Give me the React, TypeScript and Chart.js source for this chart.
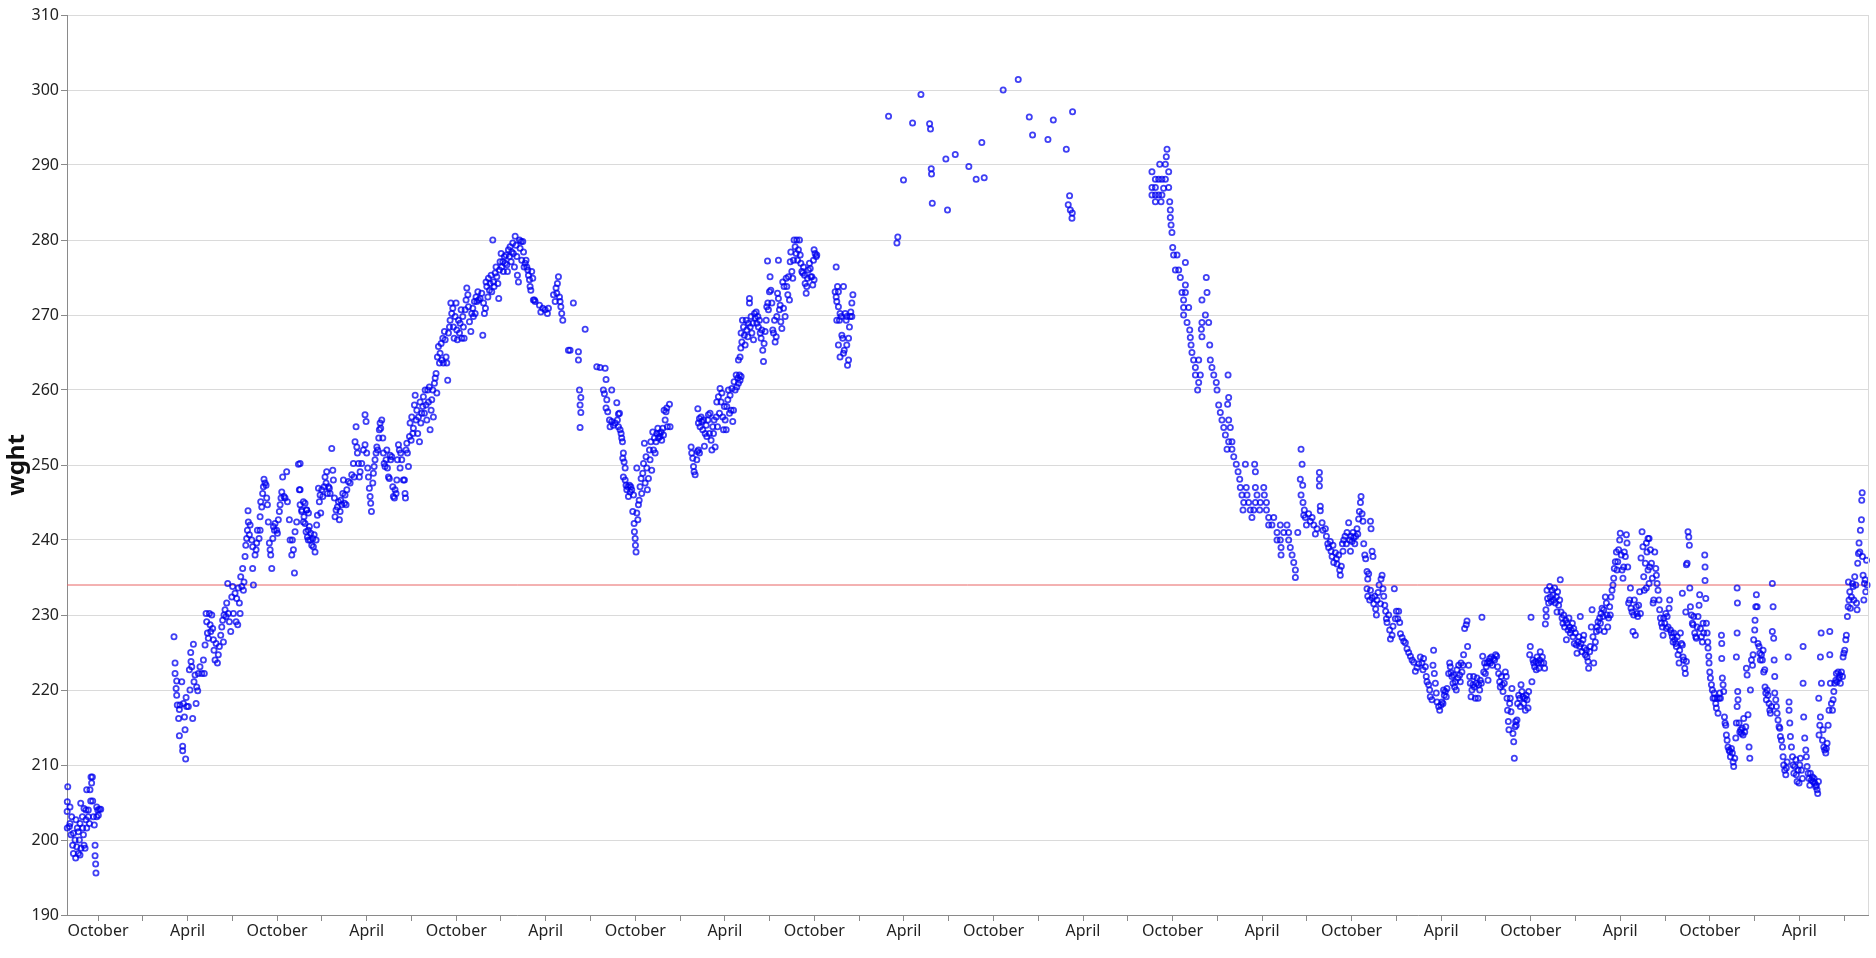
import React, { useEffect, useRef } from "react";
import { Chart, registerables } from "chart.js";

Chart.register(...registerables);

// x values are month indexes counted from January of the first year shown (0 = Jan, 3 = Apr, 9 = Oct)
const monthNames: Record<number, string> = { 3: "April", 9: "October" };
const quarterTicks = [9, 12, 15, 18, 21, 24, 27, 30, 33, 36, 39, 42, 45, 48, 51, 54, 57, 60, 63, 66, 69, 72, 75, 78, 81, 84, 87, 90, 93, 96, 99, 102, 105, 108, 111, 114, 117, 120, 123, 126];
const xRange = { min: 6.92, max: 127.6 };
const yRange = { min: 190, max: 310, step: 10 };
const referenceWeight = 234;
const yTitle = "wght";

const run1: [number, number][] = [
  [6.94,201.6],[6.97,207.1],[6.94,205.1],[6.93,203.8],[7.12,204.4],[7.08,201.8],[7.23,203.1],[7.12,202.2],[7.19,200.7],[7.35,200.9],[7.30,199.3],[7.35,198.2],[7.50,197.6],[7.57,199.1],[7.46,200.0],[7.61,201.6],[7.68,201.1],[7.52,202.7],[7.68,198.2],[7.75,200.0],[7.79,202.2],[7.84,204.9],[7.86,198.9],[7.79,198.0],[7.95,203.1],[7.97,201.6],[8.02,200.7],[8.06,199.3],[8.06,204.2],[8.13,198.9],[8.19,202.7],[8.24,201.6],[8.24,206.7],[8.19,204.0],[8.35,204.0],[8.35,203.1],[8.42,202.2],[8.46,206.7],[8.53,208.4],[8.57,207.6],[8.51,205.2],[8.64,205.2],[8.62,208.4],[8.69,203.1],[8.75,202.0],[8.80,199.3],[8.80,197.9],[8.84,196.8],[8.86,195.6],[8.91,203.1],[8.98,204.0],[9.09,204.1],[9.02,203.3],[9.18,204.1],[8.91,204.4]
];

const run2: [number, number][] = [
  [14.09,227.1],[14.16,223.6],[14.16,222.2],[14.27,221.2],[14.23,220.2],[14.27,219.3],[14.31,218.0],[14.45,217.4],[14.40,216.2],[14.45,213.9],[14.67,212.5],[14.67,211.9],[14.87,210.8],[14.49,218.0],[14.61,221.1],[14.72,218.2],[14.79,216.4],[14.83,214.7],[14.90,219.0],[14.94,217.8],[15.05,217.8],[15.12,222.7],[15.16,220.0],[15.21,225.0],[15.23,223.8],[15.28,223.1],[15.34,216.2],[15.39,226.1],[15.43,221.1],[15.50,222.0],[15.57,218.2],[15.61,220.4],[15.68,219.9],[15.72,222.2],[15.83,223.1],[15.95,222.2],[16.06,224.0],[16.12,222.2],[16.17,226.0],[16.24,230.2],[16.28,229.1],[16.33,227.6],[16.39,226.9],[16.46,230.2],[16.51,228.7],[16.55,227.8],[16.62,230.0],[16.68,228.2],[16.73,226.7],[16.77,225.3],[16.84,224.0],[16.91,226.2],[17.00,223.6],[17.06,224.7],[17.13,225.8],[17.22,227.3],[17.29,228.4],[17.40,226.4],[17.35,229.3],[17.44,230.0],[17.51,230.7],[17.58,229.8],[17.62,231.6],[17.69,234.2],[17.73,230.2],[17.80,229.1],[17.89,227.8],[17.96,232.4],[18.02,233.8],[18.07,230.2],[18.18,232.9],[18.25,229.1],[18.29,232.2],[18.36,228.7],[18.40,233.6],[18.47,231.6],[18.52,230.2],[18.56,235.1],[18.63,233.8],[18.69,236.2],[18.74,233.3],[18.78,234.4],[18.85,237.8],[18.90,239.3],[18.96,240.2],[19.01,241.3],[19.07,242.4],[19.05,243.9],[19.14,240.7],[19.19,242.0],[19.30,240.0],[19.36,239.1],[19.41,234.0],[19.36,236.2],[19.52,238.0],[19.59,238.7],[19.63,239.6],[19.68,241.3],[19.79,240.2],[19.86,241.3],[19.86,243.1],[19.90,245.1],[19.97,244.4],[20.03,246.2],[20.08,247.1],[20.12,248.1],[20.19,247.6],[20.26,247.3],[20.30,245.6],[20.35,244.7],[20.41,242.4],[20.48,239.6],[20.53,238.7],[20.57,238.0],[20.64,236.2],[20.71,240.2],[20.75,241.8],[20.82,241.3],[20.86,242.2],[20.97,241.3],[21.02,240.9],[21.08,242.7],[21.15,243.8],[21.20,244.7],[21.26,245.6],[21.31,246.4],[21.37,248.4],[21.46,245.8],[21.53,245.6],[21.64,249.1],[21.69,245.1],[21.82,242.7],[21.87,240.0],[21.98,238.0],[22.02,240.0],[22.09,238.7],[22.16,235.6],[22.20,241.1],[22.31,242.4],[22.43,250.1],[22.49,246.7],[22.54,244.7],[22.65,243.8],[22.76,242.4],[22.87,244.9],[22.98,244.0],[23.09,241.3],[23.09,240.0]
];

const run3: [number, number][] = [
  [22.54,250.2],[22.54,246.7],[22.65,244.0],[22.76,245.1],[22.80,243.1],[22.87,242.2],[22.94,241.1],[22.98,244.0],[23.03,240.4],[23.10,243.6],[23.16,241.8],[23.21,240.0],[23.25,240.9],[23.32,239.3],[23.39,240.2],[23.43,239.1],[23.54,238.4],[23.48,240.7],[23.61,240.0],[23.65,242.0],[23.70,243.3],[23.77,246.9],[23.83,245.1],[23.88,246.0],[23.92,243.6],[23.99,246.7],[24.06,245.8],[24.15,247.1],[24.21,248.4],[24.28,247.6],[24.32,249.1],[24.37,246.2],[24.44,247.1],[24.50,246.9],[24.55,246.2],[24.66,252.2],[24.73,249.3],[24.77,248.0],[24.84,245.6],[24.88,243.1],[24.95,244.0],[25.04,244.4],[25.11,245.1],[25.17,242.7],[25.22,243.8],[25.26,245.3],[25.33,244.7],[25.40,246.2],[25.44,248.0],[25.51,244.9],[25.55,246.0],[25.62,244.7],[25.67,246.7],[25.78,247.8],[25.89,247.6],[26.00,248.7],[26.11,250.2],[26.16,248.4],[26.22,253.1],[26.29,255.1],[26.34,252.4],[26.38,251.6],[26.45,250.2],[26.51,248.4],[26.56,249.1],[26.67,250.2],[26.78,252.0],[26.89,256.7],[26.96,255.8],[26.89,252.7],[27.00,251.6],[27.07,249.6],[27.12,248.4],[27.18,246.9],[27.23,245.8],[27.27,244.9],[27.32,243.8],[27.41,247.6],[27.45,248.9],[27.50,249.8],[27.56,250.7],[27.63,251.6],[27.68,252.4],[27.74,252.0],[27.81,253.6],[27.85,254.7],[27.90,255.6],[27.94,254.9],[28.01,256.0],[28.08,253.6],[28.12,251.6],[28.17,250.2],[28.23,249.8],[28.30,250.7],[28.35,252.0],[28.39,249.6],[28.46,248.4],[28.52,248.2],[28.57,251.3],[28.61,250.7],[28.68,251.1],[28.75,247.1],[28.79,245.8],[28.86,245.6],[28.90,246.7],[28.97,246.2],[29.02,248.0],[29.06,250.7],[29.13,252.7],[29.19,252.0],[29.24,249.6],[29.28,251.6],[29.35,250.7],[29.46,248.0],[29.53,248.0],[29.57,246.2],[29.60,245.6],[29.64,252.0],[29.69,252.9],[29.73,251.6],[29.80,249.8],[29.87,253.8],[29.91,255.6],[29.98,253.3],[30.02,256.4],[30.09,254.2],[30.13,254.9],[30.20,258.0],[30.25,259.3],[30.31,256.0],[30.36,257.3],[30.42,254.2],[30.47,256.4],[30.54,253.1],[30.58,258.4],[30.63,255.6],[30.69,256.9],[30.76,257.8],[30.80,259.1],[30.87,256.9],[30.92,260.0],[30.98,258.0],[31.03,256.0],[31.09,260.0],[31.14,258.4],[31.20,260.4],[31.25,254.7],[31.32,257.3],[31.36,258.7],[31.43,260.0],[31.47,256.4],[31.54,260.9],[31.59,261.6],[31.65,262.2],[31.70,259.6],[31.74,264.4],[31.81,265.8],[31.88,263.6],[31.92,264.9],[31.99,266.2],[32.03,264.0],[32.10,266.9],[32.14,263.6],[32.21,267.8],[32.26,266.7],[32.32,264.4],[32.37,263.6],[32.43,261.3],[32.48,267.6],[32.55,268.4],[32.59,269.3],[32.64,271.6],[32.70,270.2],[32.77,270.9],[32.81,268.4],[32.86,266.9],[32.93,269.8],[32.99,271.6],[33.04,268.0],[33.08,266.7],[33.15,269.3],[33.22,267.6],[33.26,268.9],[33.33,270.7],[33.37,266.9],[33.44,269.8],[33.48,268.4],[33.53,266.9],[33.60,270.7],[33.66,272.0],[33.71,273.6],[33.78,272.7],[33.82,271.1],[33.89,269.1],[33.98,267.8],[34.04,270.2],[34.11,270.9],[34.15,269.8],[34.22,271.8],[34.27,270.2],[34.33,272.4],[34.38,271.8],[34.45,273.1],[34.49,272.0],[34.60,272.2],[34.71,272.9],[34.78,267.3],[34.83,271.6],[34.89,270.2],[34.96,270.9],[35.00,274.4],[35.05,273.8],[35.12,272.4],[35.16,274.9],[35.23,273.3],[35.27,274.2],[35.34,275.3],[35.38,273.1],[35.45,280.0],[35.50,274.4],[35.54,273.8],[35.61,275.6],[35.67,276.4],[35.72,275.1],[35.79,274.2],[35.85,272.2],[35.90,276.0],[35.94,277.1],[36.01,278.2],[36.05,276.4],[36.12,277.1],[36.16,275.8],[36.23,277.8],[36.28,276.9],[36.34,278.0],[36.39,276.7],[36.43,275.8],[36.50,278.7],[36.57,277.8],[36.61,279.1],[36.68,277.1],[36.72,278.4],[36.79,279.6],[36.83,278.2],[36.90,276.4],[36.95,280.5],[37.01,279.3],[37.06,277.8],[37.10,275.3],[37.17,274.4],[37.24,280.0],[37.28,278.9],[37.35,279.8],[37.39,277.3],[37.46,279.8],[37.51,278.4],[37.55,276.4],[37.62,276.9],[37.68,277.3],[37.73,276.4],[37.80,276.0],[37.84,275.3],[37.91,274.7],[37.95,273.8],[38.00,273.3],[38.06,275.8],[38.13,274.9],[38.17,272.0],[38.24,272.0],[38.29,271.8],[38.58,271.3],[38.67,270.4],[38.80,270.9],[38.96,270.7],[39.11,270.2],[39.18,270.9],[39.52,272.7],[39.63,271.8],[39.69,273.6],[39.74,272.9],[39.78,274.2],[39.85,275.1],[39.92,272.4],[39.96,271.8],[40.01,271.1],[40.07,270.2],[40.14,269.3],[40.52,265.3]
];

const run4: [number, number][] = [
  [40.85,271.6],[41.64,268.1],[40.63,265.3],[41.19,265.1],[41.19,264.0],[41.26,260.0],[41.35,259.0],[41.30,258.0],[41.35,257.0],[41.30,255.0],[42.42,263.1],[42.64,263.0],[42.98,262.9],[43.04,261.4],[42.86,260.0],[42.93,259.5],[43.42,260.0],[43.09,258.7],[43.04,257.6],[43.15,257.1],[43.27,256.0],[43.31,255.1],[43.42,255.8],[43.53,255.3],[43.65,255.6],[43.76,258.3],[43.87,256.8],[43.94,256.9],[43.80,256.0],[43.87,255.1],[43.98,254.7],[44.05,254.2],[44.09,253.6],[44.14,253.1],[44.20,251.6],[44.16,250.9],[44.25,250.4],[44.32,249.6],[44.20,248.4],[44.32,248.0],[44.38,247.3],[44.43,246.7],[44.50,247.1],[44.54,245.8],[44.61,247.3],[44.65,246.4],[44.70,247.1],[44.76,246.7],[44.83,243.8],[44.88,246.0],[44.92,242.2],[44.94,241.1],[44.99,240.2],[45.01,239.3],[45.05,238.4],[45.10,249.6],[45.10,243.6],[45.17,242.7],[45.21,244.7],[45.26,245.3],[45.32,247.1],[45.39,248.2],[45.43,246.2],[45.50,248.9],[45.55,250.2],[45.61,252.9],[45.66,247.6],[45.72,251.1],[45.77,249.6],[45.81,246.7],[45.88,248.2],[45.95,252.0],[45.99,250.7],[46.04,253.1],[46.10,249.3],[46.17,254.4],[46.22,252.0],[46.28,253.6],[46.33,251.6],[46.39,253.1],[46.44,254.2],[46.51,254.9],[46.55,253.6],[46.62,254.2],[46.66,253.8],[46.73,254.4],[46.77,253.3],[46.84,254.9],[46.89,254.0],[46.93,257.3],[47.00,256.0],[47.06,257.1],[47.11,257.6],[47.15,255.1],[47.29,258.1],[47.33,255.1],
  [48.74,252.4],[48.78,251.6],[48.85,250.9],[48.90,249.8],[48.94,249.1],[49.01,248.7],[49.12,250.7],[49.16,251.8],[49.23,252.0],[49.30,251.6],[49.19,257.5],[49.23,255.6],[49.30,256.2],[49.34,255.1],[49.41,256.4],[49.45,255.8],[49.52,254.7],[49.57,256.0],[49.63,252.5],[49.68,254.2],[49.75,255.3],[49.79,253.8],[49.86,256.0],[49.90,256.7],[49.97,254.2],[50.01,256.9],[50.08,253.3],[50.13,252.0],[50.19,255.1],[50.24,254.2],[50.28,256.0],[50.35,252.4],[50.42,256.4],[50.46,258.4],[50.51,255.1],[50.57,259.1],[50.64,256.9],[50.68,260.2],[50.75,258.4],[50.80,259.6],[50.86,256.4],[50.91,254.7],[50.97,257.8],[51.02,256.0],[51.09,254.7],[51.13,257.8],[51.20,258.7],[51.24,260.0],[51.31,256.9],[51.35,259.3],[51.42,257.3],[51.47,260.2],[51.53,255.8],[51.58,257.3],[51.62,261.1],[51.69,260.0],[51.76,262.0],[51.80,260.4],[51.87,261.6],[51.91,260.9],[51.98,262.0],[52.02,261.3],[52.09,261.8],[51.91,264.0],[52.02,264.4],[52.07,265.6],[52.14,266.4],[52.09,267.6],[52.18,269.3],[52.25,268.4],[52.31,267.3],[52.36,266.0],[52.43,269.3],[52.47,268.0],[52.54,267.1],[52.58,268.9],[52.65,272.2],[52.65,271.6],[52.70,268.4],[52.76,269.8],[52.81,267.6],[52.87,268.9],[52.92,266.7],[52.99,270.2],[53.03,269.6],[53.10,270.4],[53.14,268.9],[53.21,269.8],[53.25,268.4],[53.32,269.3],[53.37,267.6],[53.43,266.9],[53.48,268.0],[53.54,265.3],[53.59,263.8],[53.63,266.2],[53.70,267.8],[53.77,269.3],[53.81,271.1],[53.86,277.2],[53.88,271.6],[53.92,270.7],[53.99,273.1],[54.03,275.1],[54.08,273.3],[54.15,271.6],[54.21,268.0],[54.26,267.6],[54.33,269.3],[54.37,266.4],[54.44,267.1],[54.48,269.8],[54.53,272.9],[54.59,277.3],[54.59,272.2],[54.66,270.7],[54.71,271.3],[54.75,269.1],[54.82,268.2],[54.88,274.4],[54.93,270.9],[54.97,273.8],[55.04,269.8],[55.11,274.9],[55.15,273.8],[55.22,272.7],[55.26,275.1],[55.33,272.0],[55.38,277.1],[55.42,278.4],[55.49,275.8],[55.55,274.9],[55.60,277.3],[55.64,280.0],[55.71,279.1],[55.78,278.2],[55.82,280.0],[55.87,277.3],[55.93,278.7],[56.00,280.0],[56.05,278.0],[56.09,276.9],[56.16,275.8],[56.22,275.6],[56.27,276.4],[56.34,275.3],[56.38,274.2],[56.45,272.9],[56.49,273.8],[56.54,274.9],[56.60,276.0],[56.67,276.9],[56.72,276.2],[56.76,275.1],[56.83,275.1],[56.89,274.0],[56.94,277.3],[56.98,278.7],[57.05,278.2],[57.12,277.8],[57.16,278.0],[56.98,274.7],
  [58.46,276.4],[58.39,273.1],[58.46,272.4],[58.55,273.8],[58.61,273.1],[58.50,271.8],[58.61,271.1],[58.50,269.3],[58.68,269.3],[58.72,270.2],[58.79,269.8],[58.61,266.0],[58.72,264.4],[58.84,267.3],[58.90,266.9],[58.95,264.9],[59.00,265.3],[58.95,273.8],[59.06,270.2],[59.13,269.3],[59.17,266.0],[59.22,263.3],[59.29,264.0],[59.29,266.9],[59.35,268.4],[59.40,269.8],[59.44,270.4],[59.51,271.6],[59.58,272.7],[59.51,269.8],[59.17,269.8]
];

const run5: [number, number][] = [
  [61.97,296.5],[62.59,280.4],[62.53,279.6],[62.97,288.0],[63.58,295.6],[64.14,299.4],[64.72,295.5],[64.78,294.8],[64.83,289.5],[64.85,288.8],[64.90,284.9],[65.81,290.8],[65.92,284.0],[66.44,291.4],[67.35,289.8],[67.84,288.1],[68.22,293.0],[68.38,288.3],[69.65,300.0],[70.66,301.4],[71.40,296.4],[71.62,294.0],[72.65,293.4],[73.01,296.0],[73.88,292.1],[74.10,285.9],[74.01,284.7],[74.15,284.0],[74.28,283.6],[74.26,282.9],[74.30,297.1]
];

const run6: [number, number][] = [
  [80.63,292.1],[80.58,291.1],[80.52,290.1],[80.14,290.1],[79.62,289.1],[79.85,288.1],[80.07,288.1],[80.29,288.1],[80.52,288.1],[80.74,289.1],[79.62,287.0],[79.85,287.0],[80.74,287.0],[79.62,286.0],[79.85,286.0],[80.07,286.0],[80.29,286.0],[79.85,285.1],[80.23,285.1],[80.40,286.9],[80.81,285.1],[80.85,284.0],[80.85,283.0],[80.90,282.0],[80.96,281.0],[81.01,279.0],[81.07,278.0],[81.30,278.0],[81.86,277.0],[81.19,276.0],[81.41,276.0],[81.52,275.0],[81.86,274.0],[81.63,273.0],[81.86,273.0],[81.74,272.0],[81.74,271.0],[82.08,271.0],[81.74,270.0],[81.97,269.0],[82.15,268.0],[82.19,267.0],[82.24,266.0],[82.30,265.0],[82.41,264.0],[82.75,264.0],[82.53,263.0],[82.53,262.0],[82.86,262.0],[82.75,261.0],[82.68,260.0],[83.26,275.0],[83.31,273.0],[82.97,272.0],[83.20,270.0],[82.97,269.0],[83.42,269.0],[82.93,268.1],[82.97,267.1],[83.49,266.0],[83.53,264.0],[83.64,263.0],[83.76,262.0],[83.93,261.0],[83.98,260.0],[84.72,262.0],[84.09,258.0],[84.20,257.0],[84.69,258.1],[84.76,259.0],[84.31,256.0],[84.76,256.0],[84.43,255.0],[84.87,255.0],[84.54,254.0],[84.76,253.1],[84.98,253.1],[84.65,252.1],[84.98,252.1],[85.10,251.1],[85.27,250.1],[85.39,249.1],[85.50,248.1],[85.54,247.0],[85.88,250.1],[86.50,250.1],[86.55,249.1],[85.94,247.0],[86.55,247.0],[87.11,247.0],[85.65,246.0],[85.99,246.0],[86.66,246.0],[87.15,246.0],[85.77,245.0],[86.10,245.0],[86.55,245.0],[86.88,245.0],[87.29,245.0],[85.72,244.0],[86.21,244.0],[86.44,244.0],[86.84,244.0],[87.29,244.0],[86.32,243.0],[87.44,243.0],[87.78,243.0],[87.44,242.0],[87.66,242.0],[88.22,242.0],[88.67,242.0],[88.00,241.0],[88.45,241.0],[88.78,241.0],[88.00,240.0],[88.22,240.0],[88.78,240.0],[88.27,239.0],[88.89,239.0],[88.27,238.0],[89.01,238.0],[89.12,237.0],[89.23,236.0],[89.23,235.0],[89.39,241.0],
  [89.61,252.1],[89.68,250.1],[89.56,248.1],[89.72,247.3],[89.61,246.0],[89.74,245.0],[89.83,244.0],[89.90,243.0],[89.97,242.0],[89.79,243.3],[90.12,243.5],[90.23,242.5],[90.35,243.0],[90.46,242.0],[90.57,240.8],[90.68,241.5],[90.84,249.0],[90.84,248.1],[90.84,247.2],[90.90,244.5],[90.90,243.9],[91.02,242.3],[91.08,241.3],[91.24,241.5],[91.31,240.5],[91.40,239.5],[91.46,239.0],[91.57,239.8],[91.62,238.5],[91.69,237.8],[91.75,239.3],[91.80,237.0],[91.91,238.3],[91.98,237.5],[92.02,236.8],[92.13,238.0],[92.20,236.0],[92.24,235.3],[92.31,236.5],[92.38,239.5],[92.42,238.5],[92.47,240.0],[92.56,240.5],[92.65,239.5],[92.69,241.0],[92.80,242.3],[92.87,240.0],[92.92,238.5],[92.96,240.5],[93.03,239.8],[93.09,241.0],[93.14,240.3],[93.21,239.5],[93.27,240.5],[93.36,241.5],[93.41,240.8],[93.47,242.8],[93.52,243.8],[93.59,245.0],[93.63,245.8],[93.70,243.5],[93.76,242.5],[93.81,239.5],[93.88,238.0],[93.94,237.5],[94.03,235.8],[94.08,234.8],[94.14,235.5],[94.26,242.5],[94.30,241.5],[94.37,238.5],[94.43,237.8],[94.03,233.5],[94.08,232.5],[94.21,232.0],[94.26,233.3],[94.37,232.3],[94.48,231.5],[94.55,232.5],[94.61,230.8],[94.66,230.0],[94.70,232.0],[94.77,233.0],[94.84,234.0],[94.93,231.5],[94.97,234.8],[95.04,235.3],[95.10,233.5],[95.15,232.5],[95.22,231.3],[95.28,230.5],[95.33,229.5],[95.37,229.0],[95.48,230.0],[95.55,228.0],[95.60,226.8],[95.71,227.3],[95.77,228.5],[95.86,233.5],[95.93,229.5],[96.00,230.5],[96.09,229.5],[96.15,230.5],[96.22,229.0],[96.27,227.5],[96.38,227.0],[96.49,226.5],[96.60,226.3],[96.71,225.5],[96.82,225.0],[96.94,224.5],[97.05,224.0],[97.16,223.7],[97.27,222.5],[97.38,223.0],[97.50,223.5]
];

const run7: [number, number][] = [
  [97.60,224.4],[97.71,223.6],[97.82,224.2],[97.78,222.7],[97.94,223.1],[98.00,221.8],[98.05,221.1],[98.16,220.7],[98.23,220.0],[98.27,219.1],[98.38,218.7],[98.45,223.3],[98.49,225.3],[98.54,222.2],[98.61,220.9],[98.67,219.6],[98.72,218.4],[98.83,217.8],[98.90,217.3],[98.99,218.0],[99.05,218.4],[99.12,218.2],[99.16,220.0],[99.21,219.3],[99.28,219.8],[99.34,219.1],[99.39,220.2],[99.50,222.2],[99.57,223.6],[99.61,223.1],[99.66,222.3],[99.72,221.8],[99.79,220.9],[99.83,222.0],[99.90,220.4],[99.95,221.1],[100.01,220.0],[100.06,222.7],[100.12,221.6],[100.17,223.3],[100.24,222.0],[100.28,221.1],[100.33,223.6],[100.39,222.4],[100.46,223.3],[100.50,224.7],[100.57,228.2],[100.68,228.7],[100.73,229.2],[100.77,225.8],[100.84,223.3],[100.91,221.8],[100.95,220.9],[101.00,219.1],[101.06,220.0],[101.13,220.7],[101.17,221.8],[101.22,220.4],[101.29,218.9],[101.35,220.9],[101.40,221.6],[101.47,218.9],[101.51,220.7],[101.58,220.0],[101.62,221.3],[101.69,220.9],[101.73,229.7],[101.78,224.5],[101.85,222.4],[101.91,223.6],[101.96,222.2],[102.02,223.1],[102.07,223.6],[102.14,221.3],[102.18,223.8],[102.25,224.2],[102.29,223.6],[102.36,224.4],[102.43,223.3],[102.51,224.2],[102.58,224.0],[102.65,224.7],[102.72,224.5],[102.78,223.1],[102.85,222.2],[102.92,221.1],[102.96,220.4],[103.03,221.8],[103.10,220.7],[103.14,219.8],[103.23,220.9],[103.30,222.4],[103.36,221.8],[103.41,218.9],[103.45,217.3],[103.50,215.8],[103.54,214.7],[103.59,218.2],[103.63,218.9],[103.68,217.1],[103.74,220.2],[103.81,214.2],[103.86,213.1],[103.90,210.9],[103.95,215.1],[103.99,215.8],[104.03,215.3],[104.08,216.0],[104.12,218.2],[104.19,219.3],[104.26,218.9],[104.30,217.8],[104.35,220.7],[104.41,219.8],[104.48,219.1],[104.53,218.2],[104.59,218.9],[104.64,217.3],[104.70,219.3],[104.75,218.7],[104.82,217.6],[104.86,219.8],[104.93,224.7],[104.97,225.8],[105.02,229.7],[105.08,221.1],[105.15,224.0],[105.20,223.6],[105.26,223.1],[105.33,223.8],[105.37,222.7],[105.42,224.4],[105.49,223.6],[105.55,222.9],[105.60,224.0],[105.64,225.1],[105.71,223.6],[105.78,224.4],[105.87,223.6],[105.93,222.9],[105.98,228.8],[106.02,230.7],[106.04,229.8],[106.09,233.3],[106.13,232.2],[106.20,231.6],[106.27,233.8],[106.31,232.4],[106.38,231.8],[106.42,233.3],[106.49,232.7],[106.54,232.0],[106.60,233.6],[106.65,231.6],[106.72,232.4],[106.76,230.4],[106.80,233.1],[106.87,231.3],[106.94,232.0],[106.98,234.7],[107.03,230.4],[107.10,229.6],[107.16,228.9],[107.21,230.0],[107.27,228.4],[107.34,229.3],[107.39,226.7],[107.43,228.9],[107.50,228.0],[107.56,229.6],[107.61,228.4],[107.65,227.6],[107.72,228.0],[107.79,228.9],[107.83,227.1],[107.88,228.2],[107.92,226.2],[107.99,227.6],[108.06,226.0],[108.10,224.9],[108.17,226.4],[108.23,227.1],[108.28,225.8],[108.32,229.8],[108.37,226.2],[108.44,225.1],[108.50,226.7],[108.55,227.3],[108.59,225.6],[108.66,224.7],[108.73,225.3],[108.77,224.4],[108.84,223.8],[108.88,222.9],[108.95,225.1],[108.99,225.8],[109.06,228.4],[109.11,230.7],[109.17,227.1],[109.22,223.6],[109.26,225.6],[109.33,226.4],[109.40,227.8],[109.44,228.4],[109.51,229.1],[109.58,228.0],[109.62,229.6],[109.67,228.9],[109.71,230.2],[109.78,230.9],[109.84,229.8],[109.89,230.7],[109.93,227.8],[110.00,232.4],[110.07,231.6],[110.11,230.0],[110.16,228.4],[110.22,229.6],[110.29,231.1],[110.33,230.0],[110.38,232.4],[110.45,233.3],[110.51,234.0],[110.56,234.9],[110.60,236.2],[110.67,237.1],[110.74,238.4],[110.78,236.0],[110.83,237.1],[110.89,238.7],[110.96,240.0],[111.00,240.9],[111.07,238.0],[111.12,236.0],[111.18,234.9],[111.23,236.4],[111.27,238.4],[111.34,237.8],[111.41,240.7],[111.45,239.6],[111.50,236.4],[111.56,231.6],[111.63,232.0],[111.68,233.6],[111.72,230.9],[111.79,230.4],[111.85,227.8],[111.90,230.0],[111.94,232.0],[112.01,227.3],[112.08,231.1],[112.12,230.2],[112.17,229.8],[112.23,231.3],[112.30,233.1],[112.35,230.2],[112.39,237.6],[112.46,241.1],[112.52,239.1],[112.57,235.1],[112.61,233.3],[112.68,236.9]
];

const run8: [number, number][] = [
  [112.75,239.6],[112.79,238.4],[112.86,240.2],[112.93,234.2],[112.97,236.4],[112.75,233.6],[112.86,236.0],[112.93,240.2],[113.02,238.7],[113.09,236.9],[113.15,234.9],[113.20,231.6],[113.24,232.0],[113.31,238.4],[113.38,236.2],[113.42,235.3],[113.47,234.2],[113.53,233.3],[113.60,232.0],[113.64,230.7],[113.69,229.6],[113.76,228.9],[113.82,228.4],[113.87,227.3],[113.91,229.6],[113.98,228.9],[114.05,230.2],[114.09,228.2],[114.14,229.8],[114.20,228.4],[114.27,230.9],[114.31,232.0],[114.36,228.0],[114.43,227.6],[114.49,227.1],[114.54,226.4],[114.58,227.6],[114.65,226.7],[114.72,226.2],[114.76,225.8],[114.81,227.1],[114.87,224.7],[114.94,223.6],[114.98,225.3],[115.03,227.6],[115.10,226.2],[115.16,226.0],[115.21,224.4],[115.25,224.0],[115.32,222.9],[115.36,222.2],[115.43,223.8],[115.16,232.9],[115.39,230.4],[115.43,236.7],[115.48,236.9],[115.54,241.1],[115.59,240.4],[115.63,239.3],[115.66,233.6],[115.70,231.1],[115.77,230.0],[115.83,228.9],[115.88,228.7],[115.92,229.8],[115.99,227.6],[116.06,227.1],[116.10,226.9],[116.15,228.4],[116.21,229.8],[116.28,231.3],[116.32,232.7],[116.37,228.2],[116.44,227.1],[116.50,226.4],[116.55,228.9],[116.59,227.6],[116.66,238.0],[116.68,236.4],[116.68,234.6],[116.73,232.2],[116.77,228.9],[116.82,227.6],[116.86,226.4],[116.88,225.6],[116.93,224.5],[116.95,223.6],[117.00,222.4],[117.04,221.6],[117.11,220.7],[117.17,220.0],[117.22,218.9],[117.29,219.6],[117.33,218.9],[117.40,218.2],[117.44,217.6],[117.49,218.9],[117.55,216.9],[117.62,218.9],[117.67,219.6],[117.71,218.9],[117.78,227.3],[117.80,226.2],[117.80,224.2],[117.84,221.6],[117.89,220.7],[117.93,219.8],[117.98,216.4],[118.02,215.6],[118.07,215.3],[118.11,214.0],[118.16,213.3],[118.22,212.4],[118.29,212.0],[118.34,211.8],[118.38,211.1],[118.45,212.2],[118.51,211.6],[118.56,210.4],[118.60,209.8],[118.67,210.9],[118.74,213.6],[118.78,215.6],[118.83,217.8],[118.87,219.8],[118.78,224.4],[118.83,227.6],[118.85,231.6],[118.83,233.6],[118.89,218.7],[118.96,215.6],[119.01,214.4],[119.07,214.7],[119.12,214.2],[119.18,214.9],[119.23,214.0],[119.27,216.2],[119.34,214.4],[119.41,215.1],[119.45,222.9],[119.50,222.0],[119.56,216.7],[119.63,212.4],[119.68,210.9],[119.72,220.0],[119.79,224.0],[119.86,223.3],[119.90,224.7],[119.94,226.7],[120.01,228.0],[120.03,229.3],[120.08,231.1],[120.12,232.7],[120.17,231.1],[120.23,226.2],[120.30,225.8],[120.35,224.9],[120.39,224.0],[120.46,224.7],[120.52,224.0],[120.57,225.3],[120.61,222.4],[120.68,222.7],[120.70,220.4],[120.75,219.6],[120.79,218.7],[120.84,220.0],[120.90,219.3],[120.97,218.2],[121.02,217.3],[121.06,216.9],[121.13,217.8],[121.19,234.2],[121.19,227.8],[121.24,231.1],[121.28,226.9],[121.31,224.0],[121.35,221.8],[121.35,219.6],[121.42,218.7],[121.46,217.8],[121.51,216.9],[121.57,216.0],[121.64,215.1],[121.69,214.9],[121.73,213.8],[121.80,213.3],[121.87,212.4],[121.91,211.1],[121.95,210.0],[122.02,209.3],[122.09,208.7],[122.13,209.6],[122.18,210.4],[122.25,224.4],[122.31,218.4],[122.31,217.3],[122.36,215.6],[122.40,213.8],[122.47,212.4],[122.54,211.1],[122.58,210.0],[122.63,208.9],[122.69,209.8],[122.76,210.7],[122.80,208.7],[122.85,207.8],[122.92,209.3],[122.98,207.6],[123.03,210.0],[123.07,210.9],[123.14,209.3],[123.21,208.2],[123.25,225.8],[123.25,220.9],[123.29,216.4],[123.36,213.6],[123.43,212.0],[123.47,211.1],[123.52,209.8],[123.59,208.9],[123.65,208.2],[123.70,207.3],[123.74,208.9],[123.81,208.0],[123.88,208.4],[123.92,207.8],[123.99,208.2],[124.03,207.6],[124.10,207.1],[124.14,207.3],[124.19,206.7],[124.23,206.2],[124.28,207.8],[124.30,218.9],[124.32,214.0],[124.37,215.3],[124.41,216.4],[124.41,224.4],[124.46,227.6],[124.48,220.9],[124.55,213.3],[124.59,214.7],[124.64,212.4],[124.70,212.0],[124.77,211.6],[124.81,212.2],[124.86,212.9],[124.93,215.3],[124.99,217.3],[125.04,227.8],[125.04,224.7],[125.08,220.9],[125.15,218.2],[125.22,217.3],[125.26,218.7],[125.31,219.8],[125.37,220.9],[125.44,221.3],[125.48,222.2],[125.53,221.1],[125.60,222.4],[125.66,221.6],[125.71,222.0],[125.75,220.9],[125.82,222.4],[125.89,221.8],[125.93,224.4],[125.98,224.9],[126.04,225.3],[126.11,226.7],[126.15,227.3],[126.22,229.8],[126.27,231.1],[126.29,234.4],[126.33,232.0],[126.38,233.1],[126.42,230.9],[126.49,232.4],[126.56,234.2],[126.60,233.8],[126.65,232.0],[126.71,235.1],[126.78,234.0],[126.83,231.6],[126.87,230.7],[126.91,236.9],[126.96,238.2],[127.00,239.6],[127.05,238.4],[127.09,241.3],[127.16,242.7],[127.18,245.3],[127.21,246.3],[127.23,237.8],[127.27,235.3],[127.32,232.0],[127.36,234.2],[127.41,234.7],[127.45,233.1],[127.50,237.3],[127.54,234.0]
];

const allRuns = [run1, run2, run3, run4, run5, run6, run7, run8];

const AXIS_COLOR = "#8a8a8a";
const GRID_COLOR = "#dadada";
const FONT = "'Noto Sans', 'Open Sans', sans-serif";

const rightBorder = {
  id: "rightBorder",
  afterDraw(chart: any) {
    const { ctx, chartArea } = chart;
    ctx.save();
    ctx.strokeStyle = GRID_COLOR;
    ctx.lineWidth = 1;
    ctx.beginPath();
    ctx.moveTo(Math.round(chartArea.right) + 0.5, chartArea.top);
    ctx.lineTo(Math.round(chartArea.right) + 0.5, chartArea.bottom);
    ctx.stroke();
    ctx.restore();
  },
};

export default function App() {
  const ref = useRef<HTMLCanvasElement | null>(null);

  useEffect(() => {
    if (!ref.current) return;
    const points = allRuns.flat().map(([x, y]) => ({ x, y }));
    const chart = new Chart(ref.current, {
      type: "scatter",
      data: {
        datasets: [
          {
            label: yTitle,
            data: points,
            pointStyle: "circle",
            pointRadius: 2.6,
            pointBorderWidth: 1.8,
            borderColor: "rgba(0,0,240,0.75)",
            backgroundColor: "rgba(0,0,0,0)",
            pointBackgroundColor: "rgba(0,0,0,0)",
            pointBorderColor: "rgba(0,0,240,0.75)",
            clip: 6,
          } as any,
          {
            type: "line",
            label: "reference",
            data: [
              { x: xRange.min, y: referenceWeight },
              { x: xRange.max, y: referenceWeight },
            ],
            borderColor: "#e86464",
            borderWidth: 1,
            pointRadius: 0,
            fill: false,
          } as any,
        ],
      },
      options: {
        animation: false,
        responsive: true,
        maintainAspectRatio: false,
        layout: { padding: { top: 15, right: 8, left: 0, bottom: 0 } },
        plugins: { legend: { display: false }, tooltip: { enabled: false } },
        scales: {
          x: {
            type: "linear",
            min: xRange.min,
            max: xRange.max,
            afterBuildTicks: (scale: any) => {
              scale.ticks = quarterTicks.map((v) => ({ value: v }));
            },
            afterFit: (scale: any) => {
              scale.height = 43;
            },
            ticks: {
              autoSkip: false,
              maxRotation: 0,
              minRotation: 0,
              padding: 1,
              color: "#222",
              font: { family: FONT, size: 16 },
              callback: (value: any) => monthNames[((Math.round(Number(value)) % 12) + 12) % 12] || "",
            },
            grid: {
              drawOnChartArea: false,
              drawTicks: true,
              tickLength: 6,
              tickColor: AXIS_COLOR,
            },
            border: { color: AXIS_COLOR, width: 1 },
          },
          y: {
            type: "linear",
            min: yRange.min,
            max: yRange.max,
            afterFit: (scale: any) => {
              scale.width = 67;
            },
            ticks: {
              stepSize: yRange.step,
              padding: 2,
              color: "#222",
              font: { family: FONT, size: 16 },
            },
            grid: {
              color: GRID_COLOR,
              drawTicks: true,
              tickLength: 6,
              tickColor: AXIS_COLOR,
            },
            border: { color: AXIS_COLOR, width: 1 },
            title: {
              display: true,
              text: yTitle,
              color: "#111",
              font: { family: FONT, size: 24, weight: "bold" },
              padding: { top: 3, bottom: 0 },
            },
          },
        },
      },
      plugins: [rightBorder],
    });
    return () => chart.destroy();
  }, []);

  return (
    <div style={{ position: "fixed", left: 0, top: 0, width: "1876px", height: "958px", background: "#fff" }}>
      <canvas ref={ref} />
    </div>
  );
}
